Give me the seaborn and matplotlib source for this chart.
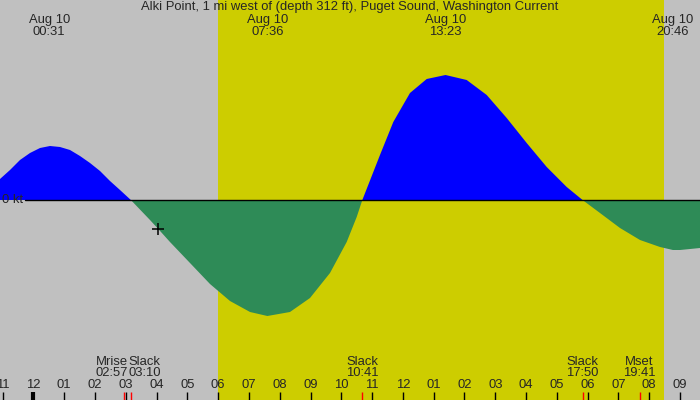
import numpy as np
import pandas as pd
import matplotlib
matplotlib.use("Agg")
import matplotlib.pyplot as plt
import matplotlib.transforms as mtransforms
import seaborn as sns

# ---- data (hours after midnight Aug 10, current speed in knots) ----
hours = [-1.081, -0.756, -0.432, -0.107, 0.218, 0.542, 0.867, 1.192, 1.516, 1.841,
         2.166, 2.490, 2.815, 3.167, 3.789, 4.058, 4.438, 5.088, 5.737, 6.386,
         7.036, 7.6, 8.334, 8.984, 9.633, 10.175, 10.5, 10.683, 11.256, 11.688,
         12.23, 12.773, 13.383, 14.071, 14.721, 15.37, 16.019, 16.669, 17.318,
         17.833, 18.399, 19.049, 19.698, 20.347, 20.767, 21.0, 21.646]
speed = [0.21, 0.30, 0.40, 0.47, 0.52, 0.54, 0.53, 0.50, 0.44, 0.37,
         0.29, 0.19, 0.10, 0.0, -0.20, -0.29, -0.42, -0.63, -0.84, -1.01,
         -1.12, -1.16, -1.12, -0.98, -0.73, -0.42, -0.17, 0.0, 0.45, 0.78,
         1.07, 1.21, 1.25, 1.20, 1.05, 0.82, 0.57, 0.33, 0.13,
         0.0, -0.13, -0.28, -0.40, -0.47, -0.50, -0.50, -0.48]

peak_times = [0.517, 7.6, 13.383, 20.767]
peak_labels = ["00:31", "07:36", "13:23", "20:46"]
peak_date = "Aug 10"

event_times = [2.95, 3.167, 10.683, 17.833, 19.683]
event_names = ["Mrise", "Slack", "Slack", "Slack", "Mset"]
event_labels = ["02:57", "03:10", "10:41", "17:50", "19:41"]

hour_ticks = list(range(-1, 22))
hour_labels = ["11", "12", "01", "02", "03", "04", "05", "06", "07", "08", "09", "10",
               "11", "12", "01", "02", "03", "04", "05", "06", "07", "08", "09"]

sunrise, sunset = 6.0, 20.47
marker_time, marker_speed = 4.058, -0.29

title = "Alki Point, 1 mi west of (depth 312 ft), Puget Sound, Washington Current"

# ---- styling ----
sns.set_style("white", {"axes.facecolor": "#c0c0c0"})
plt.rcParams["font.family"] = ["Liberation Sans", "DejaVu Sans"]
FS = 9.4

fig = plt.figure(figsize=(7, 4), dpi=100, facecolor="#c0c0c0")
ax = fig.add_axes([0, 0, 1, 1])
ax.set_facecolor("#c0c0c0")
x0 = -33.3 / 30.8
x1 = (700 - 33.3) / 30.8
ax.set_xlim(x0, x1)
ax.set_ylim(-2, 2)
for s in ax.spines.values():
    s.set_visible(False)
ax.set_xticks([])
ax.set_yticks([])

ax.axvspan(sunrise, sunset, color="#cdcd00", lw=0, zorder=0)

df = pd.DataFrame({"hour": hours, "speed": speed})
h = np.array(hours)
v = np.array(speed)
ax.fill_between(h, v, 0, where=v >= 0, interpolate=True, color="#0000ff", lw=0, zorder=1)
ax.fill_between(h, v, 0, where=v <= 0, interpolate=True, color="#2e8b57", lw=0, zorder=1)
sns.lineplot(data=df, x="hour", y="speed", ax=ax, lw=0, legend=False)

# zero line
zx0 = x0 + 25 / 30.8
ax.plot([zx0, x1], [0, 0], color="black", lw=1.0, zorder=3)
ax.text(x0 + 2 / 30.8, 0, "0 kt", fontsize=FS, ha="left", va="center", zorder=3)

ax.plot([marker_time], [marker_speed], marker="+", color="black", ms=9, mew=1.1, zorder=4)

bt = mtransforms.blended_transform_factory(ax.transData, ax.transAxes)

# hour ticks
for t, lab in zip(hour_ticks, hour_labels):
    lw = 3 if t == 0 else 1
    ax.plot([t, t], [0, 0.02], color="black", lw=lw, transform=bt, solid_capstyle="butt", zorder=3)
    ax.text(t, 0.0375, lab, fontsize=FS, ha="center", va="center", transform=bt, zorder=3)

# events
for i, (t, name, lab) in enumerate(zip(event_times, event_names, event_labels)):
    ax.plot([t, t], [0, 0.02], color="red", lw=1, transform=bt, solid_capstyle="butt", zorder=4)
    ha = "center"
    tx = t
    if i + 1 < len(event_times) and event_times[i + 1] - t < 1:
        ha, tx = "right", (t + event_times[i + 1]) / 2 + 0.0
    elif i > 0 and t - event_times[i - 1] < 1:
        ha, tx = "left", (t + event_times[i - 1]) / 2 + 0.03
    ax.text(tx, 0.095, name, fontsize=FS, ha=ha, va="center", transform=bt, zorder=3)
    ax.text(tx, 0.0675, lab, fontsize=FS, ha=ha, va="center", transform=bt, zorder=3)

# peak labels
for t, lab in zip(peak_times, peak_labels):
    ax.text(t, 0.95, peak_date, fontsize=FS, ha="center", va="center", transform=bt)
    ax.text(t, 0.92, lab, fontsize=FS, ha="center", va="center", transform=bt)

ax.text(0.5, 0.9825, title, fontsize=FS, ha="center", va="center", transform=ax.transAxes)

fig.savefig("out.png", dpi=100, facecolor=fig.get_facecolor())
